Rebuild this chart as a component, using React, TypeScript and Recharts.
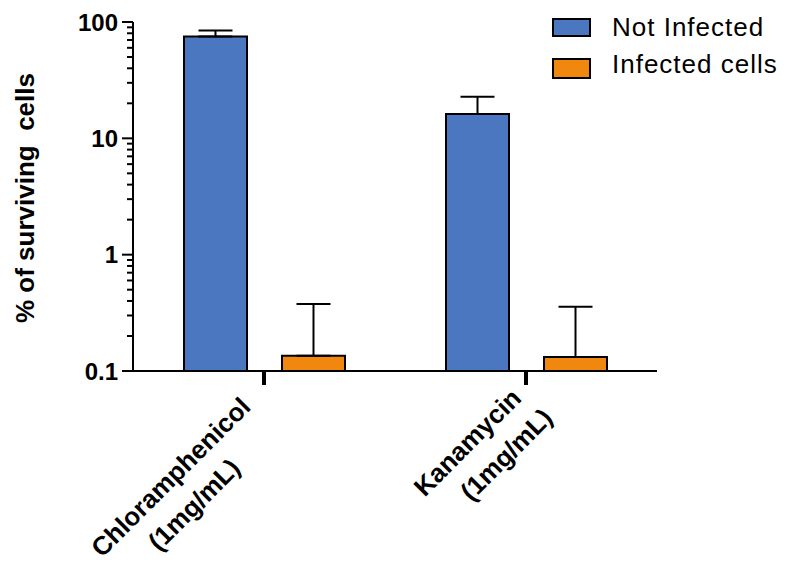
import React from "react";
import { BarChart, Bar, XAxis, YAxis, ErrorBar, Legend } from "recharts";

const CATEGORIES = ["Chloramphenicol", "Kanamycin"];
const DOSES = ["(1mg/mL)", "(1mg/mL)"];
const NOT_INFECTED = [75, 16.2];
const NOT_INFECTED_TOP = [84.5, 22.8];
const INFECTED = [0.135, 0.132];
const INFECTED_TOP = [0.376, 0.356];
const MAJOR_TICKS = [0.1, 1, 10, 100];
const MINOR_STEPS = [2, 3, 4, 5, 6, 7, 8, 9];

const BLUE = "#4a77bf";
const ORANGE = "#f0880f";
const FONT = "Arial, 'Liberation Sans', Helvetica, sans-serif";

const data = CATEGORIES.map((name, i) => ({
  name,
  notInfected: NOT_INFECTED[i],
  notInfectedErr: [0, NOT_INFECTED_TOP[i] - NOT_INFECTED[i]],
  infected: INFECTED[i],
  infectedErr: [0, INFECTED_TOP[i] - INFECTED[i]],
}));

const allTicks = [
  ...MAJOR_TICKS,
  ...MAJOR_TICKS.slice(0, 3).flatMap((m) => MINOR_STEPS.map((s) => +(m * s).toPrecision(3))),
].sort((a, b) => a - b);

const YTick = (props: any) => {
  const { x, y, payload } = props;
  const v = payload.value;
  const major = MAJOR_TICKS.includes(v);
  return (
    <g>
      <line x1={x - (major ? 11 : 6)} x2={x} y1={y} y2={y} stroke="#000" strokeWidth={2} />
      {major && (
        <text x={x - 15} y={y} dy="0.36em" textAnchor="end" fontSize={24} fontWeight="bold" fontFamily={FONT} fill="#000">
          {v}
        </text>
      )}
    </g>
  );
};

// centre of each label line along the rotated baseline
const LABEL_SHIFT = [
  [-141, -144],
  [-92, -73],
];

const XTick = (props: any) => {
  const { x, y, payload, index } = props;
  const [u1, u2] = LABEL_SHIFT[index] || [-100, -100];
  return (
    <g transform={`translate(${x},${y})`}>
      <line x1={0} x2={0} y1={0} y2={14} stroke="#000" strokeWidth={4} />
      <g transform="rotate(-45)">
        <text x={u1} y={18} textAnchor="middle" fontSize={26} fontWeight="bold" fontFamily={FONT} fill="#000">
          {payload.value}
        </text>
        <text x={u2} y={54} textAnchor="middle" fontSize={26} fontWeight="bold" fontFamily={FONT} fill="#000">
          {DOSES[index]}
        </text>
      </g>
    </g>
  );
};

const LegendBox = () => (
  <svg width={240} height={90} style={{ display: "block" }}>
    <rect x={13} y={19} width={37} height={17} fill={BLUE} stroke="#000" strokeWidth={2} />
    <rect x={13} y={59} width={37} height={19} fill={ORANGE} stroke="#000" strokeWidth={2} />
    <text x={72} y={36} fontSize={26} letterSpacing={1} fontFamily={FONT} fill="#000">
      Not Infected
    </text>
    <text x={72} y={73} fontSize={26} letterSpacing={1} fontFamily={FONT} fill="#000">
      Infected cells
    </text>
  </svg>
);

export default function App() {
  return (
    <div style={{ position: "absolute", left: 0, top: 0, background: "#fff" }}>
      <BarChart
        width={791}
        height={562}
        data={data}
        margin={{ top: 22, right: 134, bottom: 0, left: 0 }}
        barSize={63}
        barGap={35}
      >
        <XAxis
          dataKey="name"
          height={191}
          tickLine={false}
          tickSize={0}
          tickMargin={0}
          axisLine={{ stroke: "#000", strokeWidth: 2 }}
          tick={<XTick />}
          interval={0}
        />
        <YAxis
          scale="log"
          domain={[0.1, 100]}
          allowDataOverflow
          ticks={allTicks}
          interval={0}
          width={133}
          tickLine={false}
          tickSize={0}
          tickMargin={0}
          axisLine={{ stroke: "#000", strokeWidth: 2 }}
          tick={<YTick />}
          label={{
            value: "% of surviving  cells",
            angle: -90,
            position: "insideLeft",
            content: () => (
              <text
                x={34}
                y={198}
                transform="rotate(-90 34 198)"
                textAnchor="middle"
                fontSize={26}
                fontWeight="bold"
                fontFamily={FONT}
                fill="#000"
                style={{ whiteSpace: "pre" }}
              >
                % of surviving  cells
              </text>
            ),
          }}
        />
        <Legend
          layout="horizontal"
          verticalAlign="middle"
          align="center"
          content={<LegendBox />}
          wrapperStyle={{ top: 0, left: 540, width: 240, height: 90 }}
        />
        <Bar dataKey="notInfected" fill={BLUE} stroke="#000" strokeWidth={2} isAnimationActive={false}>
          <ErrorBar dataKey="notInfectedErr" direction="y" width={17} stroke="#000" strokeWidth={2} />
        </Bar>
        <Bar dataKey="infected" fill={ORANGE} stroke="#000" strokeWidth={2} isAnimationActive={false}>
          <ErrorBar dataKey="infectedErr" direction="y" width={17} stroke="#000" strokeWidth={2} />
        </Bar>
      </BarChart>
    </div>
  );
}
